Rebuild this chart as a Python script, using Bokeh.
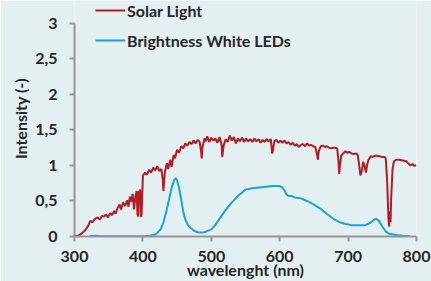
from bokeh.plotting import figure
from bokeh.models import Range1d, FixedTicker
from bokeh.embed import file_html
from bokeh.resources import INLINE

solar_nm = [300, 305, 310, 315, 320, 323, 326, 330, 334, 337, 340, 343, 346, 349, 352, 355, 358, 360,
            363, 366, 368, 371, 374, 377, 379, 381, 383, 385, 387, 389, 391, 392, 393, 394, 396, 397,
            398, 400, 403, 406, 409, 412, 415, 418, 421, 424, 427, 429, 430, 432, 435, 437, 440, 442,
            445, 447, 450, 453, 456, 459, 462, 465, 468, 471, 474, 477, 480, 483, 485, 486, 487, 490,
            492, 494, 497, 500, 503, 506, 509, 512, 515, 516, 518, 521, 524, 527, 530, 533, 536, 539,
            542, 545, 548, 551, 554, 557, 560, 563, 566, 569, 572, 575, 578, 581, 584, 587, 589, 590,
            592, 595, 598, 601, 604, 607, 610, 613, 616, 619, 622, 625, 628, 631, 634, 637, 640, 643,
            646, 649, 652, 654, 656, 657, 660, 663, 666, 669, 672, 675, 678, 681, 684, 686, 687, 688,
            690, 693, 696, 699, 702, 705, 708, 711, 714, 716, 718, 720, 722, 724, 726, 728, 730, 733,
            736, 740, 745, 750, 753, 755, 757, 759, 760, 761, 762, 763, 765, 767, 770, 775, 780, 785,
            788, 791, 794, 797, 799]
solar_val = [0.00, 0.01, 0.04, 0.08, 0.15, 0.22, 0.20, 0.25, 0.27, 0.24, 0.29, 0.28, 0.31, 0.27, 0.33,
             0.30, 0.36, 0.32, 0.40, 0.45, 0.38, 0.48, 0.43, 0.51, 0.42, 0.56, 0.49, 0.60, 0.38, 0.56,
             0.64, 0.32, 0.28, 0.62, 0.66, 0.28, 0.30, 0.85, 0.90, 0.87, 0.94, 0.90, 0.97, 0.93, 0.99,
             0.92, 0.95, 0.80, 0.64, 0.90, 1.03, 0.95, 1.08, 0.98, 1.15, 1.10, 1.22, 1.18, 1.27, 1.24,
             1.31, 1.28, 1.33, 1.30, 1.35, 1.31, 1.36, 1.33, 1.20, 1.10, 1.25, 1.38, 1.34, 1.41, 1.33,
             1.39, 1.35, 1.38, 1.32, 1.40, 1.30, 1.12, 1.28, 1.37, 1.33, 1.42, 1.35, 1.40, 1.31, 1.38,
             1.34, 1.39, 1.33, 1.38, 1.34, 1.37, 1.33, 1.38, 1.34, 1.37, 1.32, 1.36, 1.33, 1.37, 1.34,
             1.37, 1.17, 1.20, 1.34, 1.36, 1.32, 1.35, 1.32, 1.35, 1.31, 1.33, 1.29, 1.32, 1.28, 1.30,
             1.26, 1.29, 1.30, 1.27, 1.31, 1.28, 1.29, 1.27, 1.26, 1.18, 1.08, 1.20, 1.27, 1.28, 1.26,
             1.27, 1.25, 1.24, 1.25, 1.25, 1.24, 1.05, 0.88, 1.00, 1.14, 1.17, 1.20, 1.18, 1.19, 1.17,
             1.16, 1.17, 1.15, 1.02, 0.86, 0.92, 1.05, 1.00, 0.90, 1.02, 1.08, 1.13, 1.12, 1.14, 1.13,
             1.12, 1.12, 1.10, 0.80, 0.25, 0.14, 0.35, 0.20, 0.55, 0.95, 1.06, 1.08, 1.08, 1.07, 1.06,
             1.03, 1.00, 1.02, 0.99, 1.01]

led_nm = [322, 330, 340, 360, 380, 400, 410, 416, 420, 426, 430, 435, 440, 443, 446, 448, 450, 453,
          456, 459, 462, 466, 470, 475, 480, 485, 490, 495, 500, 505, 510, 515, 520, 525, 530, 535,
          540, 545, 550, 555, 560, 570, 580, 590, 600, 604, 607, 610, 613, 617, 622, 630, 640, 650,
          660, 670, 680, 688, 695, 705, 715, 725, 732, 737, 741, 745, 750, 755, 760, 770, 780, 790]
led_val = [0.005, 0.01, 0.005, 0.005, 0.005, 0.005, 0.01, 0.02, 0.04, 0.10, 0.20, 0.38, 0.60, 0.72,
           0.80, 0.82, 0.79, 0.68, 0.52, 0.35, 0.24, 0.16, 0.12, 0.08, 0.06, 0.055, 0.06, 0.08, 0.10,
           0.15, 0.22, 0.29, 0.36, 0.42, 0.48, 0.53, 0.58, 0.62, 0.66, 0.67, 0.68, 0.69, 0.70, 0.71,
           0.71, 0.69, 0.65, 0.59, 0.57, 0.57, 0.55, 0.54, 0.50, 0.45, 0.39, 0.31, 0.24, 0.20, 0.18,
           0.16, 0.16, 0.16, 0.19, 0.23, 0.25, 0.22, 0.14, 0.07, 0.04, 0.02, 0.01, 0.005]

x_ticks = [300, 400, 500, 600, 700, 800]
y_ticks = [0, 0.5, 1, 1.5, 2, 2.5, 3]
y_tick_labels = ["0", "0,5", "1", "1,5", "2", "2,5", "3"]

BG = "#e4eff2"
TXT = "#262626"
AX = "#969696"
FONT = "Lato"

# frame spans the full top of the canvas so the legend (above the y=3 tick) is not clipped;
# the y axis line itself is bounded to 0..3
Y_TOP = 3 * 237 / 214

p = figure(width=431, height=281, output_backend="svg", toolbar_location=None,
           x_range=Range1d(300, 800), y_range=Range1d(0, Y_TOP),
           min_border_left=74, min_border_top=0, min_border_right=15, min_border_bottom=44)
p.background_fill_color = BG
p.border_fill_color = BG
p.outline_line_color = None
p.grid.visible = False

p.line(solar_nm, solar_val, line_color="#b01e24", line_width=2, legend_label="Solar Light")
p.line(led_nm, led_val, line_color="#1da1db", line_width=2, legend_label="Brightness White LEDs")

for ax in (p.xaxis[0], p.yaxis[0]):
    ax.axis_line_color = AX
    ax.axis_line_width = 2
    ax.major_tick_line_color = AX
    ax.major_tick_line_width = 2
    ax.major_tick_out = 5
    ax.major_tick_in = 0
    ax.minor_tick_line_color = None
    ax.major_label_text_font = FONT
    ax.major_label_text_font_style = "bold"
    ax.major_label_text_font_size = "16px"
    ax.major_label_text_color = TXT
    ax.axis_label_text_font = FONT
    ax.axis_label_text_font_style = "bold"
    ax.axis_label_text_font_size = "16px"
    ax.axis_label_text_color = TXT

p.xaxis.ticker = FixedTicker(ticks=x_ticks)
p.yaxis.ticker = FixedTicker(ticks=y_ticks)
p.yaxis.bounds = (0, 3)
p.yaxis.major_label_overrides = {t: l for t, l in zip(y_ticks, y_tick_labels)}
p.xaxis.axis_label = "wavelenght (nm)"
p.yaxis.axis_label = "Intensity (-)"
p.xaxis.major_label_standoff = 9
p.xaxis.axis_label_standoff = -5
p.yaxis.major_label_standoff = 12
p.yaxis.axis_label_standoff = 2

lg = p.legend[0]
lg.location = (21, 186)
lg.background_fill_alpha = 0
lg.border_line_alpha = 0
lg.glyph_width = 30
lg.glyph_height = 20
lg.label_standoff = 2
lg.spacing = 10
lg.padding = 0
lg.margin = 0
lg.label_text_font = FONT
lg.label_text_font_style = "bold"
lg.label_text_font_size = "16px"
lg.label_text_color = TXT

open("out.html", "w").write(file_html(p, INLINE))
